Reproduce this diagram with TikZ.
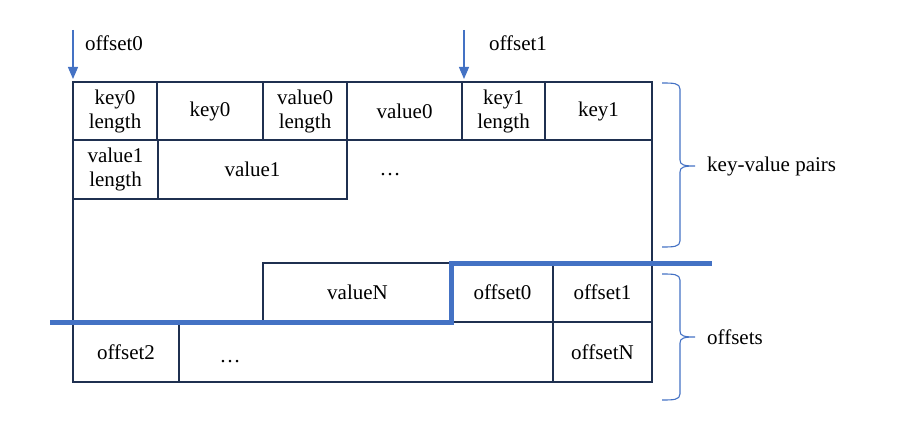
\documentclass[tikz,border=0pt]{standalone}
\usepackage{fontspec}
\setmainfont{Liberation Serif}
\usetikzlibrary{arrows.meta}
\definecolor{framec}{HTML}{1F3050}
\definecolor{accent}{HTML}{4472C4}
\begin{document}
\begin{tikzpicture}[x=1pt,y=-1pt,
  txt/.style={font=\fontsize{21}{24}\selectfont, inner sep=0pt, align=center},
  cell/.style={txt, draw=framec, line width=2.8pt, minimum height=58pt},
  ptr/.style={accent, line width=1.3pt, -{Triangle[width=10pt,length=12pt]}},
  bracec/.style={accent, line width=1.1pt},
  divider/.style={accent, line width=4.5pt}]
\useasboundingbox (0,0) rectangle (898,441);
% outer frame
\node[draw=framec, line width=2.8pt, minimum width=579pt, minimum height=300pt, inner sep=0pt] (frame) at (362.5,232) {};
% row 1
\node[cell, minimum width=84pt]  (k0l) at (115,111)   {key0\\length};
\node[cell, minimum width=106pt] (k0)  at (210,111)   {key0};
\node[cell, minimum width=84pt]  (v0l) at (305,111)   {value0\\length};
\node[cell, minimum width=115pt] (v0)  at (404.5,111) {value0};
\node[cell, minimum width=83pt]  (k1l) at (503.5,111) {key1\\length};
\node[cell, minimum width=107pt] (k1)  at (598.5,111) {key1};
% row 2
\node[cell, minimum width=85pt, minimum height=59pt]  (v1l) at (115.5,169.5) {value1\\length};
\node[cell, minimum width=189pt, minimum height=59pt] (v1)  at (252.5,169.5) {value1};
\node[txt, anchor=base] (dots1) at (390,176) {…};
% valueN and offsets
\node[cell, minimum width=189pt, minimum height=59pt] (vN) at (357.5,292.5) {valueN};
\node[cell, minimum width=101pt, minimum height=59pt] (o0) at (502.5,292.5) {offset0};
\node[cell, minimum width=99pt, minimum height=59pt]  (o1) at (602.5,292.5) {offset1};
\node[cell, minimum width=106pt, minimum height=60pt] (o2) at (126,352) {offset2};
\node[cell, minimum width=99pt, minimum height=60pt]  (oN) at (602.5,352) {offsetN};
\node[txt, anchor=base] (dots2) at (230,362) {…};
% divider
\coordinate (d1) at (50,322.5);
\coordinate (d2) at (451.5,322.5);
\coordinate (d3) at (451.5,263.5);
\coordinate (d4) at (712,263.5);
\draw[divider] (d1) -- (d2) -- (d3) -- (d4);
% pointers
\coordinate (p0s) at (73,30);
\coordinate (p0e) at (73,79);
\coordinate (p1s) at (464,30);
\coordinate (p1e) at (464,79);
\draw[ptr] (p0s) -- (p0e);
\draw[ptr] (p1s) -- (p1e);
\node[txt] (lo0) at (114,43) {offset0};
\node[txt] (lo1) at (518,43) {offset1};
% braces
\draw[bracec] (662,83) .. controls (673,83) and (680,83) .. (680,89)
  -- (680,160) .. controls (680,165) and (684,166) .. (695,166)
  .. controls (684,166) and (680,167) .. (680,172)
  -- (680,241) .. controls (680,247) and (673,247) .. (662,247);
\draw[bracec] (662,274) .. controls (673,274) and (680,274) .. (680,280)
  -- (680,331) .. controls (680,336) and (684,337) .. (695,337)
  .. controls (684,337) and (680,338) .. (680,343)
  -- (680,394) .. controls (680,400) and (673,400) .. (662,400);
\node[txt, anchor=west] (lkv) at (707,166) {key-value pairs};
\node[txt, anchor=west] (loff) at (707,337) {offsets};
\end{tikzpicture}
\end{document}
